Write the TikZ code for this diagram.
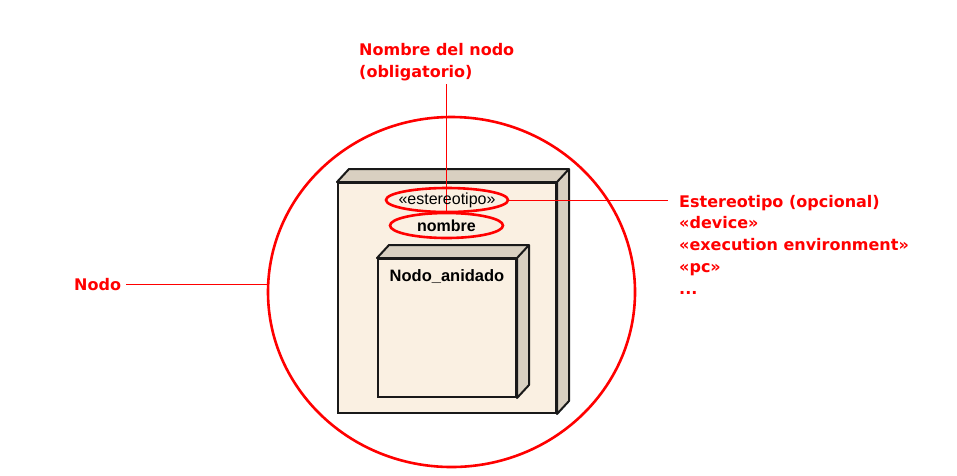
\documentclass[tikz,border=0pt]{standalone}
\usepackage{fontspec}
\usepackage{tikz}
\usetikzlibrary{shapes.geometric,positioning}
\setmainfont{Liberation Sans}
\newfontfamily\rotulofont{DejaVu Sans}
\definecolor{crema}{HTML}{FAF0E2}
\definecolor{sombra}{HTML}{D9D0C1}
\definecolor{rojo}{HTML}{FF0000}

\begin{document}
\begin{tikzpicture}[x=1pt, y=-1pt,
  caja/.style={draw=black!90, fill=crema, line width=2pt, inner sep=0pt},
  cara/.style={draw=black!90, fill=sombra, line width=2pt, line join=round},
  marca/.style={ellipse, draw=rojo, line width=2.6pt, inner sep=0pt},
  rotulo/.style={text=rojo, font=\rotulofont\bfseries\fontsize{16}{22}\selectfont, inner sep=0pt, align=left},
  conector/.style={draw=rojo, line width=0.9pt}]
\useasboundingbox (0,0) rectangle (957,475);
\node[marca, minimum width=367, minimum height=350] (circulo) at (451.5,292) {};
\foreach \n/\x/\y/\w/\h in {externo/447/298/218/230, anidado/447/328/138/138}
{\node[caja, minimum width=\w, minimum height=\h] (\n) at (\x,\y) {};
\draw[cara] (\n.north west) -- ++(12,-13) -- ([shift={(12,-13)}]\n.north east)
  -- ([shift={(12,-13)}]\n.south east) -- (\n.south east) -- (\n.north east) -- cycle
  (\n.north east) -- ++(12,-13); }
\node[below=11.5pt of anidado.north, inner sep=0pt, font=\bfseries\fontsize{16.5}{20}\selectfont] (titanidado) {Nodo\_anidado};
% rotulos en rojo
\node[rotulo, anchor=base west] (nodotxt) at (74,290) {Nodo};
\node[rotulo, anchor=base west] (nombretxt) at (359,77) {Nombre del nodo\\(obligatorio)};
\node[rotulo, anchor=base west] (esttitulo) at (679,207) {Estereotipo (opcional)};
\node[rotulo, below right=5.7pt and 0pt of esttitulo.south west] (estlista) {«device»\\«execution environment»\\«pc»\\...};
\node[marca, minimum width=113, minimum height=25, font=\bfseries\fontsize{16}{20}\selectfont] (nombre) at (446.5,225.5) {nombre};
\draw[conector] (nombre.north) -- (nombre.north |- nombretxt.south) [shorten >=3pt];
\draw[conector, shorten <=5pt] (nodotxt.east) -- (nodotxt.east -| circulo.west);
\node[marca, minimum width=122, minimum height=24] (estereo) at (447,200) {};
\node[font=\fontsize{16}{18}\selectfont, inner sep=0pt] (estereotxt) at (estereo) {«estereotipo»};
\draw[conector, shorten >=11pt] (estereo.east) -- (estereo.east -| esttitulo.west);
\end{tikzpicture}
\end{document}
